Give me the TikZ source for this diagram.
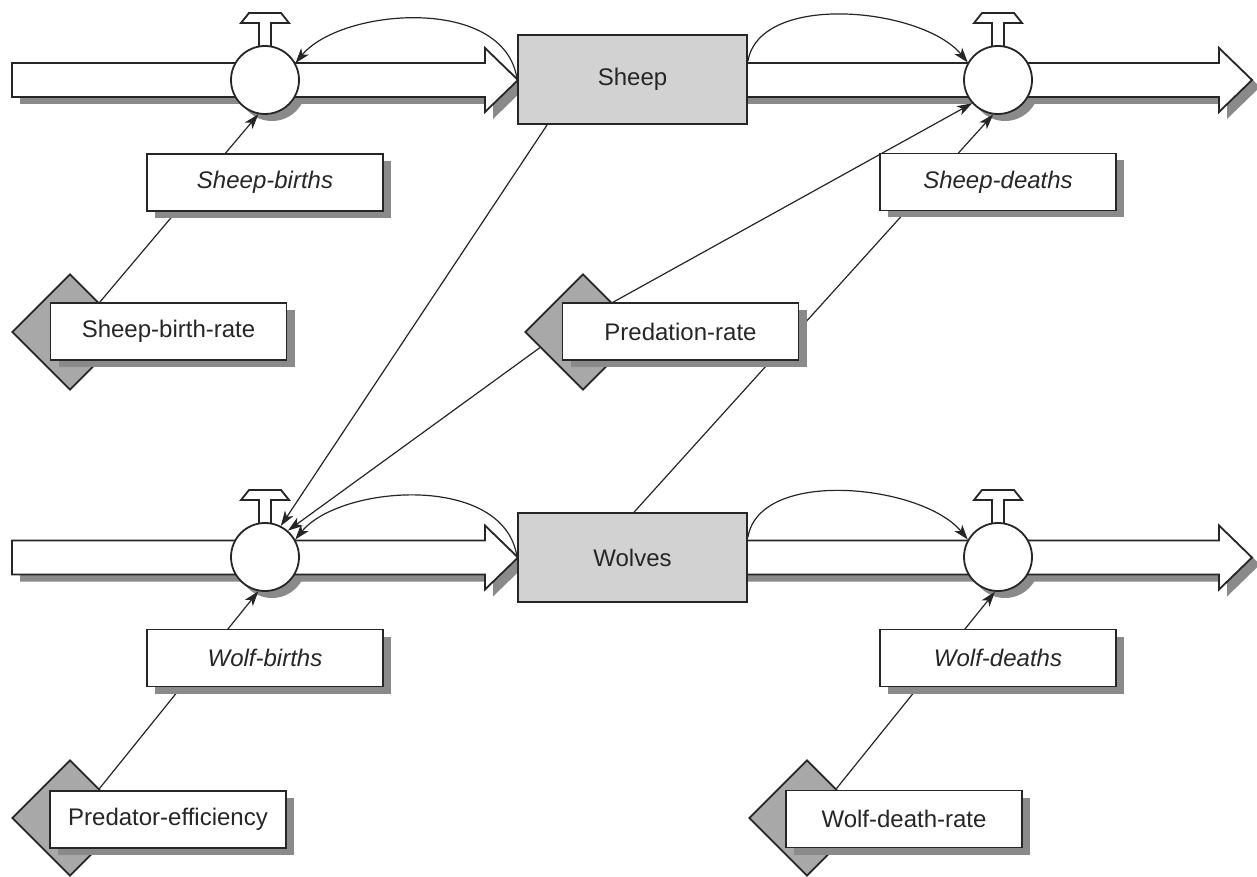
\documentclass[tikz,border=0pt]{standalone}
\usepackage{fontspec}
\setmainfont{Liberation Sans}
\usetikzlibrary{shapes.geometric,arrows.meta,shadows}
\definecolor{ink}{HTML}{262626}
\definecolor{shd}{HTML}{8A8A8A}
\definecolor{stockgray}{HTML}{D2D2D2}
\definecolor{diagray}{HTML}{A8A8A8}
\newcommand\pipe[4]{\path[#4] (#1,#3-17) -- (#2-33,#3-17) -- (#2-33,#3-32) -- (#2,#3) -- (#2-33,#3+32) -- (#2-33,#3+17) -- (#1,#3+17) -- cycle;}
\newcommand\valvetop[2]{\path[outl, fill=white] (#1-6,#2-30) -- (#1-6,#2-57) -- (#1-24,#2-57) -- (#1-16,#2-67) -- (#1+16,#2-67) -- (#1+24,#2-57) -- (#1+6,#2-57) -- (#1+6,#2-30) -- cycle;}
\begin{document}
\begin{tikzpicture}[x=1pt,y=-1pt,line join=miter,
  outl/.style={draw=ink, line width=1.8pt},
  stock/.style={outl, fill=stockgray, minimum width=229pt, minimum height=89pt, inner sep=0pt, font=\fontsize{24}{28}\selectfont, text=ink},
  valve/.style={outl, fill=white, circle, minimum size=68pt, inner sep=0pt},
  lblbox/.style={outl, fill=white, minimum width=236pt, minimum height=57pt, inner sep=0pt, text=ink,
    drop shadow={shadow xshift=8pt, shadow yshift=-7pt, opacity=1, fill=shd}},
  flowlbl/.style={lblbox, font=\fontsize{24}{28}\selectfont\itshape},
  constbox/.style={lblbox, font=\fontsize{24}{28}\selectfont},
  dia/.style={outl, fill=diagray, diamond, minimum width=116pt, minimum height=116pt, inner sep=0pt},
  link/.style={draw=ink, line width=1.2pt, -{Stealth[length=15pt,width=10pt,inset=4pt]}},
]
\useasboundingbox (0,0) rectangle (1257,877);
\fill[white] (0,0) rectangle (1257,877);
% shadows of pipes and valves
\pipe{12}{518}{80}{fill=shd, shift={(8,7)}}
\pipe{740}{1252}{80}{fill=shd, shift={(8,7)}}
\pipe{12}{518}{557.5}{fill=shd, shift={(8,7)}}
\pipe{740}{1252}{557.5}{fill=shd, shift={(8,7)}}
\fill[shd] (272,87) circle[radius=34pt];
\fill[shd] (1005,87) circle[radius=34pt];
\fill[shd] (272,564) circle[radius=34pt];
\fill[shd] (1005,564) circle[radius=34pt];
% pipes
\pipe{12}{518}{80}{outl, fill=white}
\pipe{740}{1252}{80}{outl, fill=white}
\pipe{12}{518}{557.5}{outl, fill=white}
\pipe{740}{1252}{557.5}{outl, fill=white}
% valve handles
\valvetop{265}{80}
\valvetop{998}{80}
\valvetop{265}{557}
\valvetop{998}{557}
% valves
\node[valve] (vsb) at (265,80) {};
\node[valve] (vsd) at (998,80) {};
\node[valve] (vwb) at (265,557) {};
\node[valve] (vwd) at (998,557) {};
% stocks
\node[stock] (sh) at (632.5,79.5) {Sheep};
\node[stock] (wv) at (632.5,557.5) {Wolves};
% diamonds of constants
\node[dia] (sbrd) at (70,332) {};
\node[dia] (prd) at (583,332) {};
\node[dia] (ped) at (70,818) {};
\node[dia] (wdrd) at (807,818) {};
% arcs
\draw[link] (sh.west) .. controls +(-12,-85) and +(45,-55) .. (vsb.29);
\draw[link] (sh.9) .. controls +(12,-70) and +(-45,-55) .. (vsd.150);
\draw[link] (wv.west) .. controls +(-12,-85) and +(45,-55) .. (vwb.30);
\draw[link] (wv.10) .. controls +(12,-70) and +(-45,-55) .. (vwd.150);
% connectors
\draw[link] (sbrd.45) -- (vsb.259);
\draw[link] (sh.208) -- (vwb.63);
\draw[link] (prd.200) -- (vwb.49);
\draw[link] (prd.45) -- (vsd.222);
\draw[link] (wv.88) -- (vsd.262);
\draw[link] (ped.45) -- (vwb.259);
\draw[link] (wdrd.45) -- (vwd.265);
% flow labels
\node[flowlbl] (sb) at (265,182.5) {Sheep-births};
\node[flowlbl] (sd) at (998,182) {Sheep-deaths};
\node[flowlbl] (wb) at (265,658) {Wolf-births};
\node[flowlbl] (wd) at (998,658) {Wolf-deaths};
% constants
\node[constbox] (sbr) at (168.5,331.5) {Sheep-birth-rate};
\node[constbox] (pr) at (680.5,331.5) {Predation-rate};
\node[constbox] (pe) at (168,819.5) {Predator-efficiency};
\node[constbox] (wdr) at (904,819) {Wolf-death-rate};
\end{tikzpicture}
\end{document}
